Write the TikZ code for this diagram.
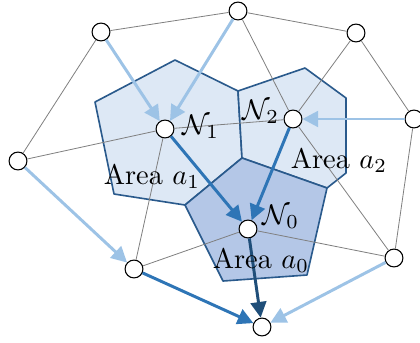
\documentclass[tikz,border=0pt]{standalone}
\usetikzlibrary{arrows.meta}
\definecolor{cellLight}{HTML}{DDE8F5}
\definecolor{cellDark}{HTML}{B4C7E7}
\definecolor{cellEdge}{HTML}{2A5A8C}
\definecolor{flowLight}{HTML}{9DC3E6}
\definecolor{flowMid}{HTML}{2E75B6}
\definecolor{flowDark}{HTML}{1F4E79}
\begin{document}
\begin{tikzpicture}[x=0.013cm,y=-0.013cm,
  vtx/.style={circle,draw,fill=white,inner sep=0,minimum size=6.6pt,line width=0.4pt},
  mesh/.style={gray,line width=0.3pt},
  cell/.style={draw=cellEdge,line width=0.6pt,line join=round},
  flow/.style={line width=1.1pt,-{Triangle[length=5.8pt,width=5.8pt]}},
  lbl/.style={scale=1.05}]
\useasboundingbox (0,0) rectangle (420,342);
% control areas
\draw[cell,fill=cellLight] (175,60)--(238,91)--(242,158)--(185,205)--(114,194)--(95,102)--cycle;
\draw[cell,fill=cellLight] (238,91)--(305,68)--(346,98)--(346,173)--(327,188)--(242,158)--cycle;
\draw[cell,fill=cellDark] (242,158)--(327,188)--(307,275)--(223,281)--(185,205)--cycle;
% mesh nodes
\node[vtx] (a) at (101,32) {};
\node[vtx] (b) at (238,11) {};
\node[vtx] (c) at (356,33) {};
\node[vtx] (d) at (18,161) {};
\node[vtx] (e) at (414,119) {};
\node[vtx] (n1) at (165,129) {};
\node[vtx] (n2) at (293,119) {};
\node[vtx] (n0) at (248,229) {};
\node[vtx] (f) at (134,269) {};
\node[vtx] (g) at (394,258) {};
\node[vtx] (h) at (262,327) {};
% triangulation
\draw[mesh] (a)--(b) (b)--(c) (a)--(d) (d)--(n1) (n1)--(n2) (b)--(n2) (c)--(n2)
  (c)--(e) (e)--(g) (n2)--(g) (n1)--(f) (f)--(n0) (n0)--(g);
% flow
\draw[flow,flowLight] (a)--(n1);
\draw[flow,flowLight] (b)--(n1);
\draw[flow,flowLight] (e)--(n2);
\draw[flow,flowLight] (d)--(f);
\draw[flow,flowLight] (g)--(h);
\draw[flow,flowMid] (n1)--(n0);
\draw[flow,flowMid] (n2)--(n0);
\draw[flow,flowMid] (f)--(h);
\draw[flow,flowDark] (n0)--(h);
% labels
\node[lbl] (l1) at (201,127) {$\mathcal{N}_1$};
\node[lbl] (l2) at (261,112) {$\mathcal{N}_2$};
\node[lbl] (l0) at (281,217) {$\mathcal{N}_0$};
\node[lbl] (t1) at (152,176) {Area $a_1$};
\node[lbl] (t2) at (339,160) {Area $a_2$};
\node[lbl] (t0) at (261,260) {Area $a_0$};
\end{tikzpicture}
\end{document}
